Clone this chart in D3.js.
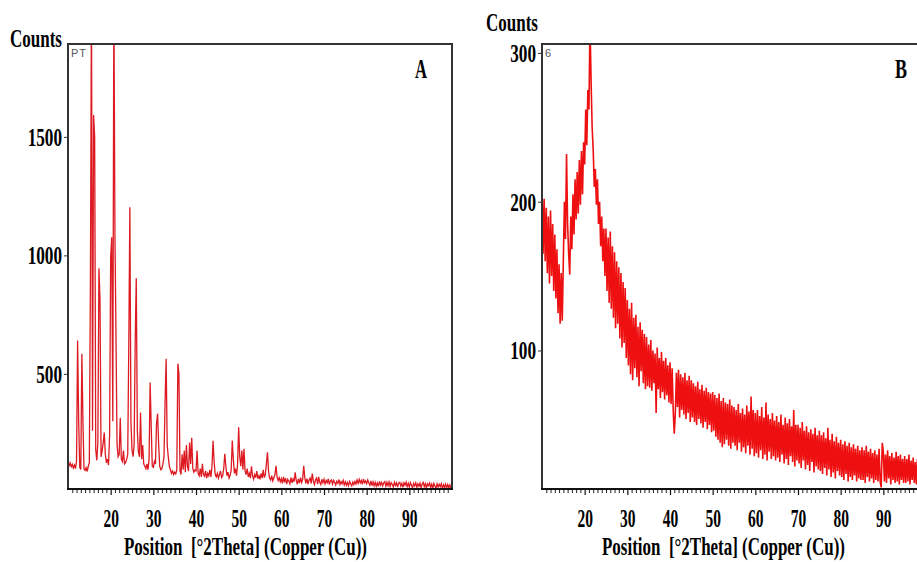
<!DOCTYPE html>
<html><head><meta charset="utf-8">
<script src="https://cdn.jsdelivr.net/npm/d3@7"></script>
<style>
html,body{margin:0;padding:0;background:#fff;}
svg{display:block;}
.lbl{font-family:"Liberation Serif","Times New Roman",serif;font-weight:bold;fill:#000;}
.tag{font-family:"Liberation Sans",Arial,sans-serif;fill:#555;}
</style>
</head><body>
<svg id="c" width="917" height="562"></svg>
<script>
// ---- data (scan 10.00 .. 99.75 °2θ, step 0.25) ----
const scanStart = 10, scanStep = 0.25;
const countsA = [
 120,112,124,108,118,103,115,100,130,641,302,105,96,585,300,98,92,104,88,110,
 125,880,2100,260,1592,1500,180,135,210,945,810,150,175,210,252,160,125,140,115,240,
 992,1076,300,2100,1097,654,200,150,160,315,140,130,176,120,125,140,160,628,1203,300,
 180,150,200,632,903,260,170,150,337,140,200,120,110,100,120,95,140,463,280,110,
 105,130,120,290,332,200,110,95,100,120,150,375,564,200,150,110,95,80,90,75,
 85,78,95,543,500,90,75,160,95,176,85,200,110,90,210,120,230,100,85,95,
 90,176,80,70,100,65,120,75,68,90,60,80,70,95,65,110,218,130,75,65,
 80,60,75,90,62,70,100,163,110,70,85,60,72,95,218,140,80,100,70,120,
 274,150,110,176,95,184,90,75,100,65,80,60,110,70,55,75,62,90,58,70,
 55,80,60,95,62,75,120,169,90,60,52,70,48,60,75,112,65,50,62,45,
 58,38,65,42,60,35,55,48,36,62,40,56,45,84,50,34,57,39,62,41,
 55,112,62,38,58,35,52,60,37,79,48,33,52,60,34,65,42,33,55,40,
 55,36,50,40,57,33,48,52,35,50,42,31,47,38,54,33,45,36,50,31,
 44,30,42,28,46,36,27,43,33,46,35,52,38,55,40,50,34,56,41,48,
 36,52,40,30,48,28,44,27,42,26,40,25,46,31,42,27,40,45,26,42,
 28,44,25,41,33,23,43,29,40,22,39,42,26,38,21,40,30,43,24,38,
 22,41,30,19,38,27,40,21,36,26,39,19,35,42,24,37,18,36,28,39,
 20,35,18,38,27,17,36,22,34,24,37,16,32,21,35,18,33,20,31,15
];
const countsB = [
 210,165,202,160,196,152,190,145,194,150,185,140,178,135,168,125,158,118,152,120,
 160,200,175,232,185,165,151,190,168,205,178,215,188,220,192,228,198,234,205,240,
 225,262,238,275,262,320,282,250,235,210,222,198,215,185,200,170,190,160,182,150,
 182,140,176,132,180,128,170,122,166,115,160,118,156,108,152,102,146,105,142,95,
 134,90,128,84,132,80,122,88,124,82,116,76,119,86,114,78,111,74,109,76,
 104,75,107,73,100,78,98,58,102,74,95,68,99,72,93,67,95,70,90,65,
 92,64,88,60,44,58,85,62,87,55,84,60,82,57,85,54,80,58,83,52,
 80,55,78,52,76,50,79,54,74,51,77,48,73,52,75,47,72,50,71,45,
 72,46,70,42,68,40,71,38,66,35,68,37,65,40,64,36,67,34,63,38,
 62,36,60,33,64,38,58,32,61,35,57,31,63,36,59,30,69,34,60,29,
 58,31,60,28,56,33,62,27,55,30,65,26,57,32,54,27,58,29,53,26,
 56,28,52,25,57,30,50,24,55,27,51,23,54,29,49,25,60,22,50,26,
 50,24,48,21,52,26,46,20,49,23,45,19,47,25,44,18,48,22,43,20,
 46,19,43,17,45,21,41,16,48,20,40,15,44,18,39,14,42,19,38,16,
 40,15,37,13,39,17,36,12,38,15,35,13,37,16,34,12,36,14,33,13,
 35,13,33,11,36,15,32,12,34,14,31,11,33,13,30,12,34,12,8,38,
 32,12,30,11,33,14,29,10,31,13,28,11,32,12,29,10,30,13,27,11,
 29,11,27,12,30,10,26,13,28,11,25,10,27,12,26,11,28,10,25,12
];
const xTickValues = [20,30,40,50,60,70,80,90];
const yTicksA = [500,1000,1500];
const yTicksB = [100,200,300];
const panelLetters = ["A","B"];
const cornerTags = ["PT","6"];
const xTitle = "Position  [°2Theta] (Copper (Cu))";
const yTitle = "Counts";

// ---- layout ----
const svg = d3.select("#c");
const panels = [
  {counts: countsA, yTicks: yTicksA, yDomain: [14, 1892], left: 68, right: 452,
   letter: panelLetters[0], tag: cornerTags[0], letterX: 415, countsX: 10, countsY: 46.5,
   titleX: 124, color: "#dd1a22", lw: 1.3},
  {counts: countsB, yTicks: yTicksB, yDomain: [6.9, 306], left: 542, right: 926,
   letter: panelLetters[1], tag: cornerTags[1], letterX: 895, countsX: 486, countsY: 31,
   titleX: 602, color: "#ee1010", lw: 1.6}
];
const plotTop = 44, plotBottom = 489;

// squeeze a text horizontally so it spans `width` pixels (the reference type is condensed)
function fit(node, width) {
  const w = node.getComputedTextLength();
  const sx = width / w;
  const tx = +node.getAttribute("x") || 0, ty = +node.getAttribute("y") || 0;
  node.setAttribute("x", 0); node.setAttribute("y", 0);
  node.setAttribute("transform", `translate(${tx},${ty}) scale(${sx},1)`);
}

panels.forEach((p, k) => {
  const x = d3.scaleLinear().domain([10, 100]).range([p.left, p.right]);
  const y = d3.scaleLinear().domain(p.yDomain).range([plotBottom, plotTop]);

  const clipId = "clip" + k;
  svg.append("clipPath").attr("id", clipId).append("rect")
    .attr("x", p.left).attr("y", plotTop).attr("width", p.right - p.left).attr("height", plotBottom - plotTop);

  const line = d3.line()
    .x((d, i) => x(scanStart + i * scanStep))
    .y(d => y(d));
  svg.append("path").datum(p.counts)
    .attr("clip-path", `url(#${clipId})`)
    .attr("fill", "none").attr("stroke", p.color).attr("stroke-width", p.lw)
    .attr("d", line);

  svg.append("path")
    .attr("d", `M${p.left},${plotBottom}V${plotTop}H${p.right}V${plotBottom}`)
    .attr("fill", "none").attr("stroke", "#333").attr("stroke-width", 2);

  const minor = d3.range(11, 100, 1).filter(v => v % 10 !== 0);
  const gMinor = svg.append("g").attr("transform", `translate(0,${plotBottom})`)
    .call(d3.axisBottom(x).tickValues(minor).tickSize(4).tickFormat(""));
  gMinor.select(".domain").remove();
  gMinor.selectAll("line").attr("stroke", "#222").attr("stroke-width", 1);

  const gx = svg.append("g").attr("transform", `translate(0,${plotBottom})`)
    .call(d3.axisBottom(x).tickValues(xTickValues).tickSize(6).tickPadding(0).tickFormat(d3.format("d")));
  gx.select(".domain").remove();
  gx.selectAll("line").attr("stroke", "#111").attr("stroke-width", 1.2);
  gx.selectAll("text").attr("class", "lbl").attr("font-size", 25)
    .attr("y", 38).attr("dy", null)
    .each(function () { fit(this, 15.5); });

  svg.append("line").attr("x1", p.left - 1).attr("x2", p.right + 1)
    .attr("y1", plotBottom).attr("y2", plotBottom).attr("stroke", "#111").attr("stroke-width", 2.2);

  const gy = svg.append("g").attr("transform", `translate(${p.left},0)`)
    .call(d3.axisLeft(y).tickValues(p.yTicks).tickSize(4).tickPadding(2).tickFormat(d3.format("d")));
  gy.select(".domain").remove();
  gy.selectAll("line").attr("stroke", "#333");
  gy.selectAll("text").attr("class", "lbl").attr("font-size", 25)
    .attr("dy", null).attr("y", 8.5)
    .each(function (d) { fit(this, String(d).length * 8.6); });

  svg.append("text").attr("class", "lbl").attr("x", p.countsX).attr("y", p.countsY)
    .attr("font-size", 25).text(yTitle)
    .each(function () { fit(this, 52); });
  svg.append("text").attr("class", "lbl").attr("x", p.titleX).attr("y", 555)
    .attr("font-size", 25).style("white-space", "pre").text(xTitle)
    .each(function () { fit(this, 243); });
  svg.append("text").attr("class", "lbl").attr("x", p.letterX).attr("y", 78)
    .attr("font-size", 27).text(p.letter)
    .each(function () { fit(this, 12); });
  svg.append("text").attr("class", "tag").attr("x", p.left + 3).attr("y", 57)
    .attr("font-size", 11).attr("letter-spacing", 1).text(p.tag);
});
</script>
</body></html>
